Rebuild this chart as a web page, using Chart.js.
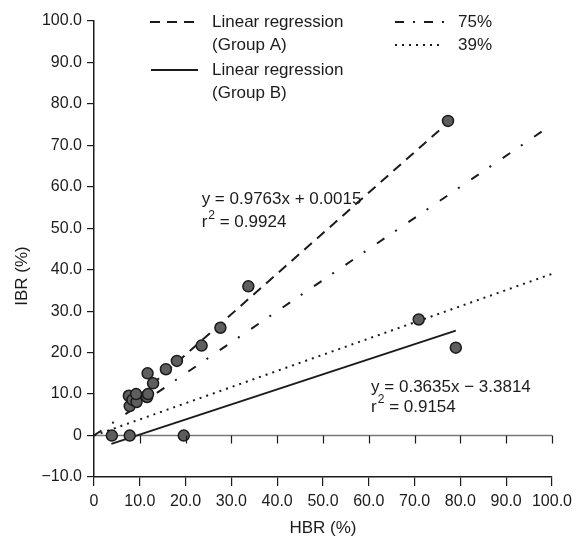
<!DOCTYPE html>
<html>
<head>
<meta charset="utf-8">
<script src="https://cdn.jsdelivr.net/npm/chart.js@4.4.0/dist/chart.umd.min.js"></script>
<style>
	html, body { margin: 0; padding: 0; background: #fff; }
	#wrap { width: 578px; height: 536px; position: relative; }
</style>
</head>
<body>
<div id="wrap"><canvas id="hbrChart"></canvas></div>
<script>
// values
let pointsHBR = [3.9, 7.8, 19.6, 7.8, 7.6, 8.4, 9.3, 9.2, 11.6, 11.8, 12.9, 11.7, 15.7, 18.1, 23.5, 27.6, 33.7, 70.9, 79.0, 77.3];
let pointsIBR = [0, 0, 0, 7.1, 9.6, 8.6, 8.1, 10.0, 9.3, 10.0, 12.6, 15.0, 16.0, 18.0, 21.7, 26.0, 36.0, 28.0, 21.2, 75.9];

let lineAx = [7.0, 77.3];
let lineAy = [6.8, 75.5];
let lineBx = [3.8, 79.0];
let lineBy = [-2.0, 25.3];
let line75x = [0, 100];
let line75y = [0, 75];
let line39x = [0, 100];
let line39y = [0, 39];
let zeroX = [0, 100];
let zeroY = [0, 0];

let xTicks = [0, 10, 20, 30, 40, 50, 60, 70, 80, 90, 100];
let yTicks = [-10, 0, 10, 20, 30, 40, 50, 60, 70, 80, 90, 100];

let eqA = ['y = 0.9763x + 0.0015', '0.9924'];
let eqB = ['y = 0.3635x \u2212 3.3814', '0.9154'];

const FONT = '"Liberation Sans", Arial, sans-serif';
const INK = '#1b1b1b';

function pairs(xs, ys) {
	return xs.map((x, i) => ({ x: x, y: ys[i] }));
}

function fmtTick(v) {
	if (v === 0) return '0';
	if (v < 0) return '\u2212' + Math.abs(v).toFixed(1);
	return v.toFixed(1);
}

function drawR2(ctx, x, y, val) {
	ctx.font = '17px ' + FONT;
	ctx.fillText('r', x, y);
	let w = ctx.measureText('r').width + 1;
	ctx.font = '12px ' + FONT;
	ctx.fillText('2', x + w, y - 7);
	w += ctx.measureText('2').width;
	ctx.font = '17px ' + FONT;
	ctx.fillText(' = ' + val, x + w, y);
}

const extras = {
	id: 'extras',
	afterDraw(chart) {
		const ctx = chart.ctx;
		const xs = chart.scales.x;
		const ys = chart.scales.y;
		ctx.save();
		ctx.fillStyle = INK;
		ctx.strokeStyle = INK;

		// little ticks under the zero line
		ctx.lineWidth = 1.2;
		let y0 = ys.getPixelForValue(0);
		xTicks.slice(1).forEach(v => {
			let px = Math.round(xs.getPixelForValue(v)) + 0.5;
			ctx.beginPath();
			ctx.moveTo(px, y0);
			ctx.lineTo(px, y0 + 8);
			ctx.stroke();
		});

		// regression equations
		ctx.textBaseline = 'middle';
		ctx.textAlign = 'left';
		ctx.font = '17px ' + FONT;
		let ax = xs.getPixelForValue(23.5);
		ctx.fillText(eqA[0], ax, ys.getPixelForValue(57.0));
		drawR2(ctx, ax, ys.getPixelForValue(51.4), eqA[1]);
		let bx = xs.getPixelForValue(60.5);
		ctx.font = '17px ' + FONT;
		ctx.fillText(eqB[0], bx, ys.getPixelForValue(11.7));
		drawR2(ctx, bx, ys.getPixelForValue(6.9), eqB[1]);

		// axis titles
		ctx.font = '17px ' + FONT;
		ctx.textAlign = 'center';
		ctx.fillText('HBR (%)', (xs.left + xs.right) / 2, 528);
		ctx.save();
		ctx.translate(22, 276);
		ctx.rotate(-Math.PI / 2);
		ctx.fillText('IBR (%)', 0, 0);
		ctx.restore();

		// legend
		ctx.textAlign = 'left';
		ctx.lineWidth = 2;
		const sample = (x1, x2, y, dash) => {
			ctx.setLineDash(dash);
			ctx.beginPath();
			ctx.moveTo(x1, y);
			ctx.lineTo(x2, y);
			ctx.stroke();
			ctx.setLineDash([]);
		};
		sample(150, 198, 22, [10, 7]);
		ctx.fillText('Linear regression', 212, 22);
		ctx.fillText('(Group A)', 212, 45);
		sample(151, 198, 70, []);
		ctx.fillText('Linear regression', 212, 70);
		ctx.fillText('(Group B)', 212, 93);
		sample(395, 444, 22, [9, 9, 2, 9]);
		ctx.fillText('75%', 458, 22);
		sample(395, 444, 45, [2, 5]);
		ctx.fillText('39%', 458, 45);
		ctx.restore();
	}
};

function axisGrid(len) {
	return { drawOnChartArea: false, drawTicks: true, tickLength: len, color: INK, lineWidth: 1.2 };
}

new Chart(document.getElementById('hbrChart'), {
	type: 'scatter',
	data: {
		datasets: [
			{
				label: 'Patients',
				data: pairs(pointsHBR, pointsIBR),
				backgroundColor: '#5e5e5e',
				borderColor: '#1a1a1a',
				borderWidth: 1.5,
				pointRadius: 5.5,
				showLine: false,
			},
			{
				label: 'Linear regression (Group A)',
				data: pairs(lineAx, lineAy),
				showLine: true,
				borderColor: INK,
				borderWidth: 2,
				borderDash: [10, 7],
				pointRadius: 0,
			},
			{
				label: 'Linear regression (Group B)',
				data: pairs(lineBx, lineBy),
				showLine: true,
				borderColor: INK,
				borderWidth: 2,
				pointRadius: 0,
			},
			{
				label: '75%',
				data: pairs(line75x, line75y),
				showLine: true,
				borderColor: INK,
				borderWidth: 2,
				borderDash: [9, 13, 2, 14],
				pointRadius: 0,
			},
			{
				label: '39%',
				data: pairs(line39x, line39y),
				showLine: true,
				borderColor: INK,
				borderWidth: 2,
				borderDash: [2, 5],
				pointRadius: 0,
			},
			{
				label: 'zero',
				data: pairs(zeroX, zeroY),
				showLine: true,
				borderColor: '#777',
				borderWidth: 1.5,
				pointRadius: 0,
			},
		],
	},
	options: {
		responsive: true,
		maintainAspectRatio: false,
		animation: false,
		events: [],
		layout: { padding: { top: 21, right: 25, left: 0, bottom: 0 } },
		plugins: { legend: { display: false }, tooltip: { enabled: false } },
		scales: {
			x: {
				type: 'linear',
				min: 0,
				max: 100,
				afterBuildTicks: s => { s.ticks = xTicks.map(v => ({ value: v })); },
				afterFit: s => { s.height = 59; },
				grid: axisGrid(9),
				border: { display: true, color: INK, width: 1.5 },
				ticks: {
					autoSkip: false,
					maxRotation: 0,
					padding: 6,
					color: INK,
					font: { family: FONT, size: 16 },
					callback: v => fmtTick(v),
				},
			},
			y: {
				type: 'linear',
				min: -10,
				max: 100,
				afterBuildTicks: s => { s.ticks = yTicks.map(v => ({ value: v })); },
				afterFit: s => { s.width = 94; },
				grid: axisGrid(7),
				border: { display: true, color: INK, width: 1.5 },
				ticks: {
					autoSkip: false,
					padding: 5,
					color: INK,
					font: { family: FONT, size: 16 },
					callback: v => fmtTick(v),
				},
			},
		},
	},
	plugins: [extras],
});
</script>
</body>
</html>
